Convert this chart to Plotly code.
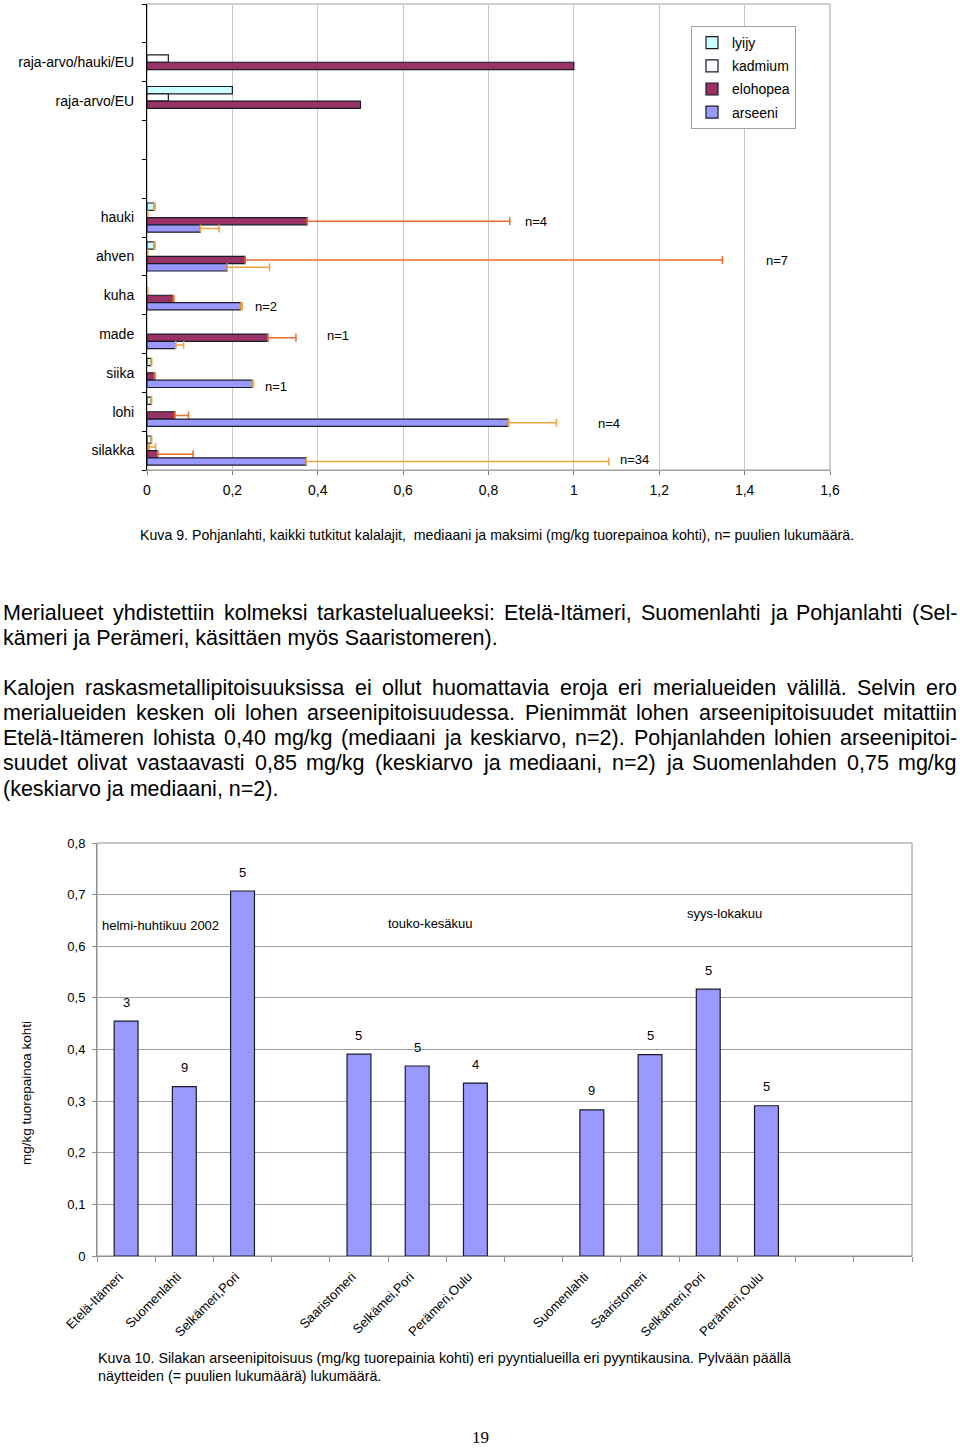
import plotly.graph_objects as go

W, H = 960, 1448
FONT = "Liberation Sans, Arial, sans-serif"

# ---------------- Kuva 9 data ----------------
fish_categories = ["", "raja-arvo/hauki/EU", "raja-arvo/EU", "", "", "hauki", "ahven",
                   "kuha", "made", "siika", "lohi", "silakka"]
series_names = ["lyijy", "kadmium", "elohopea", "arseeni"]
lyijy_median = [None, None, 0.2, None, None, 0.016, 0.016, None, None, 0.01, 0.01, 0.01]
lyijy_max = [None, None, None, None, None, 0.019, 0.019, None, None, 0.011, 0.011, 0.011]
kadmium_median = [None, 0.05, 0.05, None, None, 0.001, 0.001, 0.001, None, None, None, 0.004]
kadmium_max = [None, None, None, None, None, 0.002, 0.002, 0.002, None, None, None, 0.02]
elohopea_median = [None, 1.0, 0.5, None, None, 0.375, 0.23, 0.061, 0.283, 0.017, 0.065, 0.025]
elohopea_max = [None, None, None, None, None, 0.85, 1.348, 0.063, 0.349, 0.019, 0.097, 0.108]
arseeni_median = [None, None, None, None, None, 0.125, 0.188, 0.22, 0.067, 0.247, 0.847, 0.373]
arseeni_max = [None, None, None, None, None, 0.169, 0.287, 0.223, 0.086, 0.249, 0.959, 1.082]
fish_n = ["", "", "", "", "", "n=4", "n=7", "n=2", "n=1", "n=1", "n=4", "n=34"]
x_ticks_fig9 = [0, 0.2, 0.4, 0.6, 0.8, 1.0, 1.2, 1.4, 1.6]

# ---------------- Kuva 10 data ----------------
site_labels = ["Etelä-Itämeri", "Suomenlahti", "Selkämeri,Pori", "", "Saaristomeri",
               "Selkämei,Pori", "Perämeri,Oulu", "", "Suomenlahti", "Saaristomeri",
               "Selkämeri,Pori", "Perämeri,Oulu", "", ""]
silakka_arseeni = [0.455, 0.328, 0.707, None, 0.391, 0.368, 0.335, None,
                   0.283, 0.390, 0.517, 0.291, None, None]
silakka_n = ["3", "9", "5", "", "5", "5", "4", "", "9", "5", "5", "5", "", ""]
periods = ["helmi-huhtikuu 2002", "touko-kesäkuu", "syys-lokakuu"]

# ---------------- text ----------------
caption9 = ("Kuva 9. Pohjanlahti, kaikki tutkitut kalalajit,\u00a0 mediaani ja maksimi "
            "(mg/kg tuorepainoa kohti), n= puulien lukumäärä.")
paragraph_lines = [
    ("Merialueet yhdistettiin kolmeksi tarkastelualueeksi: Etelä-Itämeri, Suomenlahti ja Pohjanlahti (Sel-", True),
    ("kämeri ja Perämeri, käsittäen myös Saaristomeren).", False),
    ("Kalojen raskasmetallipitoisuuksissa ei ollut huomattavia eroja eri merialueiden välillä. Selvin ero", True),
    ("merialueiden kesken oli lohen arseenipitoisuudessa. Pienimmät lohen arseenipitoisuudet mitattiin", True),
    ("Etelä-Itämeren lohista 0,40 mg/kg (mediaani ja keskiarvo, n=2). Pohjanlahden lohien arseenipitoi-", True),
    ("suudet olivat vastaavasti 0,85 mg/kg (keskiarvo ja mediaani, n=2) ja Suomenlahden 0,75 mg/kg", True),
    ("(keskiarvo ja mediaani, n=2).", False),
]
caption10 = ["Kuva 10. Silakan arseenipitoisuus (mg/kg tuorepainia kohti) eri pyyntialueilla eri pyyntikausina. Pylvään päällä",
             "näytteiden (= puulien lukumäärä) lukumäärä."]
page_number = "19"

# Arial / Liberation Sans advance widths (1/1000 em) for text layout
ARIAL = {" ": 278, "\u00a0": 278, "(": 333, ")": 333, ",": 278, "-": 333, ".": 278, "/": 278,
         ":": 278, "=": 584, "A": 667, "B": 667, "C": 722, "D": 722, "E": 667, "F": 611,
         "G": 778, "H": 722, "I": 278, "J": 500, "K": 667, "L": 556, "M": 833, "N": 722,
         "O": 778, "P": 667, "Q": 778, "R": 722, "S": 667, "T": 611, "U": 722, "V": 667,
         "W": 944, "X": 667, "Y": 667, "Z": 611, "a": 556, "b": 556, "c": 500, "d": 556,
         "e": 556, "f": 278, "g": 556, "h": 556, "i": 222, "j": 222, "k": 500, "l": 222,
         "m": 833, "n": 556, "o": 556, "p": 556, "q": 556, "r": 333, "s": 500, "t": 278,
         "u": 556, "v": 500, "w": 722, "x": 500, "y": 500, "z": 500, "ä": 556, "ö": 556}


def em(s):
    return sum(ARIAL.get(c, 556) for c in s) / 1000.0


def px(x):
    return x / W


def py(y):
    return 1 - y / H


annotations = []


def text_ann(text, x, y, size, xanchor="left", family=FONT, **kw):
    d = dict(text=text, x=px(x), y=py(y), xref="paper", yref="paper", xanchor=xanchor,
             yanchor="middle", showarrow=False, borderpad=0, borderwidth=0,
             font=dict(family=family, size=size, color="black"))
    d.update(kw)
    annotations.append(d)


def justified_line(text, y, size, x0, x1, justify):
    if not justify:
        text_ann(text, x0, y, size)
        return
    words = text.split(" ")
    total = sum(em(w) for w in words) * size
    gap = (x1 - x0 - total) / (len(words) - 1)
    x = x0
    for w in words:
        text_ann(w, x, y, size)
        x += em(w) * size + gap


fig = go.Figure()

# ---------------- Kuva 9 bars ----------------
ypos = list(range(len(fish_categories)))
fill_colors = ["#CCFFFF", "#FFFFFF", "#993366", "#9999FF"]
err_colors = ["#F0A040", "#F0A040", "#F06A2A", "#F2A23A"]
medians = [lyijy_median, kadmium_median, elohopea_median, arseeni_median]
maxima = [lyijy_max, kadmium_max, elohopea_max, arseeni_max]

for name, med, mx, fc, ec in zip(series_names, medians, maxima, fill_colors, err_colors):
    plus = [(m - v) if (m is not None and v is not None) else "NaN" for v, m in zip(med, mx)]
    minus = [0 if p != "NaN" else "NaN" for p in plus]
    fig.add_trace(go.Bar(
        name=name, x=med, y=ypos, orientation="h", legendgroup=name,
        marker=dict(color=fc, line=dict(color="#1a1a2a", width=1.2)),
        error_x=dict(type="data", symmetric=False, array=plus, arrayminus=minus,
                     color=ec, thickness=1.5, width=4),
        xaxis="x", yaxis="y", hoverinfo="skip",
    ))

# n labels of Kuva 9
n_label_px = [None, None, None, None, None, (536, 221), (777, 261), (266, 306),
              (338, 336), (276, 386), (609, 423), (634, 459)]
for t, p in zip(fish_n, n_label_px):
    if t and p:
        text_ann(t, p[0], p[1], 13, xanchor="center")

# ---------------- Kuva 10 bars ----------------
xpos = list(range(len(site_labels)))
fig.add_trace(go.Bar(
    x=xpos, y=silakka_arseeni, width=0.41,
    marker=dict(color="#9999FF", line=dict(color="#1a1a2a", width=1.2)),
    showlegend=False, xaxis="x2", yaxis="y2", hoverinfo="skip",
))
for xi, v, t in zip(xpos, silakka_arseeni, silakka_n):
    if v is not None and t:
        annotations.append(dict(text=t, x=xi, y=v, xref="x2", yref="y2", xanchor="center",
                                yanchor="middle", yshift=19, showarrow=False,
                                font=dict(family=FONT, size=13, color="black")))

for t, (x, y) in zip(periods, [(160, 925), (430, 923), (724, 913)]):
    text_ann(t, x, y, 13, xanchor="center")

text_ann("mg/kg tuorepainoa kohti", 26, 1093, 13.5, xanchor="center", textangle=-90)

# ---------------- text blocks ----------------
size9 = 715 / em(caption9)
text_ann(caption9, 140, 535, size9)

para_size = 21.5
para_y = [613, 638, 688, 713, 738, 763, 789]
for (line, just), y in zip(paragraph_lines, para_y):
    justified_line(line, y, para_size, 3, 957, just)

size10 = 694 / em(caption10[0])
text_ann(caption10[0], 98, 1358, size10)
text_ann(caption10[1], 98, 1376, size10)

text_ann(page_number, 480, 1437, 17, xanchor="center",
         family="Liberation Serif, Times New Roman, serif")

# ---------------- layout ----------------
shapes = [
    dict(type="rect", xref="paper", yref="paper", x0=px(147), x1=px(830), y0=py(470), y1=py(4),
         line=dict(color="#A0A0A0", width=1), layer="below"),
    dict(type="rect", xref="paper", yref="paper", x0=px(97), x1=px(912), y0=py(1256), y1=py(843),
         line=dict(color="#909090", width=1), layer="below"),
]

named = [i for i, c in enumerate(fish_categories) if c]
fig.update_layout(
    width=W, height=H, margin=dict(l=0, r=0, t=0, b=0, autoexpand=False),
    paper_bgcolor="white", plot_bgcolor="white",
    separators=", ",
    font=dict(family=FONT, size=14, color="black"),
    barmode="group", bargap=0.25, bargroupgap=0,
    showlegend=True,
    legend=dict(x=px(691), y=py(26), xanchor="left", yanchor="top",
                bgcolor="white", bordercolor="#A0A0A0", borderwidth=1,
                font=dict(family=FONT, size=14, color="black"),
                traceorder="grouped", tracegroupgap=2, itemwidth=30),
    xaxis=dict(domain=[px(147), px(830)], anchor="y", range=[0, 1.6], automargin=False,
               tickvals=x_ticks_fig9, showgrid=True, gridcolor="#C8C8C8", gridwidth=1,
               zeroline=False, showline=True, linecolor="#A0A0A0", ticks="outside",
               ticklen=4, tickcolor="#808080", tickfont=dict(size=14), ticklabelstandoff=3),
    yaxis=dict(domain=[py(470), py(4)], anchor="x", range=[len(fish_categories) - 0.5, -0.5],
               automargin=False,
               tickvals=named, ticktext=[fish_categories[i] for i in named],
               ticks="", showgrid=False, zeroline=False, showline=True, linecolor="black",
               tickfont=dict(size=14), ticklabelstandoff=9,
               minor=dict(tickmode="array",
                          tickvals=[i - 0.5 for i in range(len(fish_categories) + 1)],
                          ticks="outside", ticklen=4, tickcolor="black", showgrid=False)),
    xaxis2=dict(domain=[px(97), px(912)], anchor="y2", range=[-0.5, len(site_labels) - 0.5],
                automargin=False,
                tickvals=xpos, ticktext=site_labels, tickangle=-45, ticks="",
                showgrid=False, zeroline=False, showline=True, linecolor="#909090",
                tickfont=dict(size=13), ticklabelstandoff=7, ticklabelshift=-7,
                minor=dict(tickmode="array",
                           tickvals=[i - 0.5 for i in range(len(site_labels) + 1)],
                           ticks="outside", ticklen=5, tickcolor="#909090", showgrid=False)),
    yaxis2=dict(domain=[py(1256), py(843)], anchor="x2", range=[0, 0.8], dtick=0.1,
                automargin=False,
                showgrid=True, gridcolor="#A0A0A0", zeroline=False, showline=True,
                linecolor="#909090", ticks="outside", ticklen=4, tickcolor="#909090",
                tickfont=dict(size=13), ticklabelstandoff=4),
    shapes=shapes,
    annotations=annotations,
)

fig.write_html("out.html", config={"displayModeBar": False},
               post_script="document.body.style.margin='0px'; document.body.style.overflow='hidden';")
